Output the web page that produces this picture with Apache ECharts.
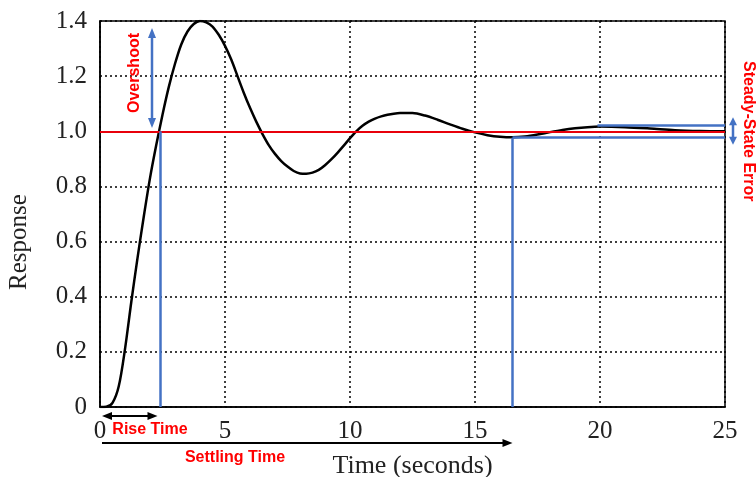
<!DOCTYPE html>
<html><head><meta charset="utf-8">
<script src="https://cdn.jsdelivr.net/npm/echarts@6/dist/echarts.min.js"></script>
<style>html,body{margin:0;padding:0;background:#fff}#c{width:756px;height:477px}</style>
</head><body><div id="c"></div>
<script>
// ---- data ----
const timeValues = [0,0.25,0.5,0.75,1.0,1.25,1.5,1.75,2.0,2.25,2.5,2.75,3.0,3.25,3.5,3.75,4.0,4.25,4.5,4.75,5.0,5.25,5.5,5.75,6.0,6.25,6.5,6.75,7.0,7.25,7.5,7.75,8.0,8.25,8.5,8.75,9.0,9.25,9.5,9.75,10.0,10.25,10.5,10.75,11.0,11.25,11.5,11.75,12.0,12.5,13.0,13.5,14.0,14.5,15.0,15.5,16.0,16.5,17.0,17.5,18.0,18.5,19.0,19.5,20.0,21.0,22.0,23.0,24.0,25.0];
const responseValues = [0,0.001,0.015,0.075,0.21,0.38,0.54,0.69,0.83,0.95,1.06,1.16,1.245,1.315,1.362,1.389,1.40,1.395,1.38,1.35,1.31,1.26,1.20,1.14,1.085,1.035,0.99,0.95,0.918,0.892,0.872,0.856,0.847,0.846,0.85,0.86,0.877,0.898,0.922,0.948,0.975,1.0,1.02,1.035,1.046,1.054,1.06,1.064,1.066,1.066,1.057,1.042,1.025,1.009,0.996,0.986,0.98,0.978,0.981,0.988,0.997,1.005,1.011,1.015,1.017,1.015,1.01,1.004,1.001,1.0];
const xTickLabels = ['0','5','10','15','20','25'];
const yTickLabels = ['0','0.2','0.4','0.6','0.8','1.0','1.2','1.4'];
const setpoint = 1.0;
const riseTime = 2.4;
const settlingTime = 16.5;
const bandUpper = 1.022;
const bandLower = 0.977;
const bandUpperStart = 19.9;
const overshootT = 2.08;
const overshootRange = [1.375, 1.012];
const arrowStartT = 0.08;
const riseArrowEndT = 2.3;

const blue = '#4472C4';
const red = '#FF0000';
const serif = '"Liberation Serif", "DejaVu Serif", serif';
const labelFont = 'bold 16px "Liberation Sans", Arial, sans-serif';

const chart = echarts.init(document.getElementById('c'), null, {renderer:'canvas'});
const seriesData = timeValues.map((t,i)=>[t, responseValues[i]]);

function seg(a,b,color,w){
  return [{coord:a, lineStyle:{color:color,width:w,type:'solid'}},{coord:b}];
}

chart.setOption({
  animation:false,
  backgroundColor:'#fff',
  grid:{left:100,right:31,top:21,bottom:70,show:true,borderColor:'#000',borderWidth:1.5,backgroundColor:'transparent',outerBoundsMode:'none',containLabel:false},
  xAxis:{type:'value',min:0,max:25,interval:5,
    axisLine:{show:true,lineStyle:{color:'#000',width:1.5}},
    axisTick:{show:false},
    axisLabel:{margin:12,color:'#222',fontFamily:serif,fontSize:25,formatter:(v)=>xTickLabels[Math.round(v/5)]},
    splitLine:{show:true,lineStyle:{color:'#000',type:[2,3],width:1.5}},
    name:'Time (seconds)',nameLocation:'middle',nameGap:46,
    nameTextStyle:{color:'#222',fontFamily:serif,fontSize:26}
  },
  yAxis:{type:'value',min:0,max:1.4,interval:0.2,
    axisLine:{show:true,lineStyle:{color:'#000',width:1.5}},
    axisTick:{show:false},
    axisLabel:{margin:13,color:'#222',fontFamily:serif,fontSize:25,formatter:(v)=>yTickLabels[Math.round(v/0.2)]},
    splitLine:{show:true,lineStyle:{color:'#000',type:[2,3],width:1.5}}
  },
  series:[{
    type:'line',data:seriesData,smooth:0.3,showSymbol:false,symbol:'none',
    lineStyle:{color:'#000',width:2.5},z:3,
    markLine:{silent:true,symbol:['none','none'],label:{show:false},animation:false,z:4,
      emphasis:{disabled:true},
      data:[
        seg([0,setpoint],[25,setpoint],'#E8000B',2),
        seg([riseTime,0],[riseTime,setpoint],blue,2.5),
        seg([settlingTime,0],[settlingTime,bandLower],blue,2.5),
        seg([settlingTime,bandLower],[25,bandLower],blue,2.5),
        seg([bandUpperStart,bandUpper],[25,bandUpper],blue,2.5)
      ]}
  }]
});

function px(x,y){return chart.convertToPixel({gridIndex:0},[x,y]);}
function arrow(x1,y1,x2,y2,color,w,hl,hw,both){
  const els=[];
  const dx=x2-x1, dy=y2-y1, L=Math.hypot(dx,dy), ux=dx/L, uy=dy/L, nx=-uy, ny=ux;
  const sx=both? x1+ux*hl*0.8 : x1, sy=both? y1+uy*hl*0.8 : y1;
  els.push({type:'line',shape:{x1:sx,y1:sy,x2:x2-ux*hl*0.8,y2:y2-uy*hl*0.8},style:{stroke:color,lineWidth:w},z:10});
  function head(tx,ty,dirx,diry){
    const bx=tx-dirx*hl, by=ty-diry*hl;
    return {type:'polygon',shape:{points:[[tx,ty],[bx+nx*hw/2,by+ny*hw/2],[bx-nx*hw/2,by-ny*hw/2]]},style:{fill:color},z:10};
  }
  els.push(head(x2,y2,ux,uy));
  if(both) els.push(head(x1,y1,-ux,-uy));
  return els;
}
function text(str,x,y,font,fill,rot){
  return {type:'text',x:x,y:y,rotation:rot||0,z:11,style:{text:str,font:font,fill:fill,align:'center',verticalAlign:'middle'}};
}

const origin = px(0,0);
const g=[];
const a0 = px(arrowStartT,0), a1 = px(riseArrowEndT,0), st = px(settlingTime,0);
g.push(...arrow(a0[0],origin[1]+9,a1[0],origin[1]+9,'#000',2,10,8,true));
g.push(...arrow(a0[0],origin[1]+36,st[0],origin[1]+36,'#000',2,10,8,false));
const o1=px(overshootT,overshootRange[0]), o2=px(overshootT,overshootRange[1]);
g.push(...arrow(o1[0],o1[1],o2[0],o2[1],blue,2.5,10,8,true));
const bu=px(25,bandUpper), bl=px(25,bandLower);
g.push(...arrow(bu[0]+8,bu[1]-8,bu[0]+8,bl[1]+7,blue,2.5,8,8,true));
g.push(text('Rise Time',a0[0]+48,origin[1]+23,labelFont,red));
g.push(text('Settling Time',235,origin[1]+51,labelFont,red));
g.push(text('Overshoot',o1[0]-17,73,labelFont,red,Math.PI/2));
const ss=px(25,setpoint);
g.push(text('Steady-State Error',ss[0]+23,ss[1],labelFont,red,-Math.PI/2));
g.push(text('Response',19,242,'25px '+serif,'#222',Math.PI/2));
chart.setOption({graphic:{elements:g}});
</script>
</body></html>
